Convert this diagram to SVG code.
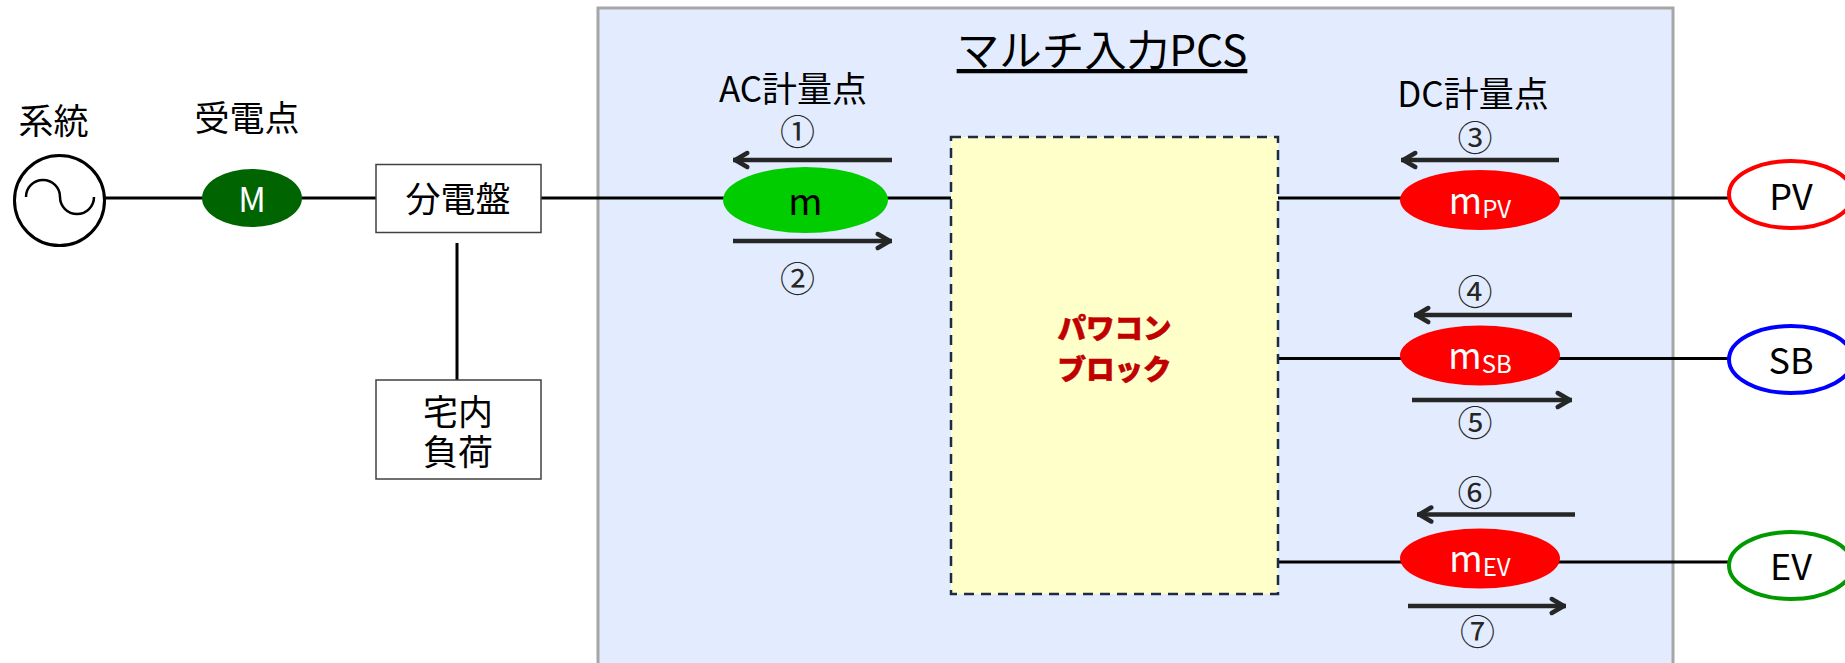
<svg xmlns="http://www.w3.org/2000/svg" width="1845" height="663" viewBox="0 0 1845 663">
<style>
text{font-family:"Noto Sans CJK JP","Noto Sans",sans-serif;fill:#000;text-anchor:middle;dominant-baseline:central}
.l{font-size:35px}
.lat{font-size:36px}
.n{font-size:35px;fill:#262626}
.sub{font-size:24px}
.box{fill:#fff;stroke:#404040;stroke-width:1.5}
.wire{stroke:#000;stroke-width:3;fill:none}
.flow{stroke:#262626;stroke-width:4.5;fill:none;marker-end:url(#a)}
.ev{fill:#fff;stroke-width:4}
.red{fill:#f00}
.wt{fill:#fff}
.pw{font-size:28.500px;font-weight:900;fill:#c00000;stroke:#c00000;stroke-width:.6}
</style>
<defs>
<marker id="a" markerUnits="userSpaceOnUse" markerWidth="24" markerHeight="24" refX="20.250" refY="12" orient="auto" overflow="visible">
<path d="M6 5L18 12L6 19" fill="none" stroke="#262626" stroke-width="4.500" stroke-linecap="round" stroke-linejoin="round"/>
</marker>
</defs>
<rect id="pcs-panel" x="598" y="8" width="1075" height="670" fill="#e2ecfe" stroke="#a6a6a6" stroke-width="3"/>
<g id="connectors">
<path class="wire" d="M105 198H376M541 198H951M1278 198H1728M457 243V380M1278 358.500H1728M1278 562H1728"/>
<path class="flow" d="M892 160H733"/>
<path class="flow" d="M733 241H892"/>
<path class="flow" d="M1559 160H1401"/>
<path class="flow" d="M1572 315H1414"/>
<path class="flow" d="M1412 400H1572"/>
<path class="flow" d="M1575 514.500H1417"/>
<path class="flow" d="M1408 606H1566"/>
</g>
<g id="grid-source"><circle cx="59.500" cy="200.500" r="45" fill="#fff" stroke="#000" stroke-width="3"/><path d="M26 197A17 17 0 0 1 60 197A17 17 0 0 0 94 197" fill="none" stroke="#000" stroke-width="2.500"/><text class="l" x="53.500" y="118.500">系統</text></g>
<g id="receiving-point"><ellipse cx="252" cy="198" rx="50" ry="29" fill="#006400"/><text x="252" y="197" font-size="34" class="wt">M</text><text class="l" x="247" y="115.500">受電点</text></g>
<g id="panelboard"><rect class="box" x="376" y="164.500" width="165" height="68"/><text class="l" x="458" y="196">分電盤</text></g>
<g id="home-load"><rect class="box" x="376" y="380" width="165" height="99"/><text class="l" y="408.500"><tspan x="458">宅内</tspan><tspan x="458" dy="40">負荷</tspan></text></g>
<text x="1102" y="47.500" font-size="42.500" text-decoration="underline">マルチ入力PCS</text>
<g id="ac-meter"><ellipse cx="805.500" cy="200" rx="82.500" ry="33" fill="#00cc00"/><text x="805.500" y="199" font-size="37">m</text><text class="l" x="793" y="86.500">AC計量点</text><text class="n" x="797.500" y="129.500">①</text><text class="n" x="797.500" y="276.500">②</text></g>
<g id="power-block"><rect x="951" y="137" width="327" height="457" fill="#ffffc9" stroke="#1f2a44" stroke-width="2.500" stroke-dasharray="10 7"/><text class="pw" y="325.500"><tspan x="1114.500">パワコン</tspan><tspan x="1114.500" dy="41">ブロック</tspan></text></g>
<g id="dc-meter"><text class="l" x="1473" y="91.500">DC計量点</text></g>
<g id="m-pv"><ellipse class="red" cx="1480" cy="200" rx="80" ry="30"/><text class="wt lat" x="1480" y="198">m<tspan class="sub" dy="9">PV</tspan></text><text class="n" x="1475" y="135.500">③</text></g>
<g id="m-sb"><ellipse class="red" cx="1480" cy="355.500" rx="80" ry="30"/><text class="wt lat" x="1480" y="353">m<tspan class="sub" dy="9">SB</tspan></text><text class="n" x="1475" y="289.500">④</text><text class="n" x="1475" y="420.500">⑤</text></g>
<g id="m-ev"><ellipse class="red" cx="1480" cy="558.500" rx="80" ry="30"/><text class="wt lat" x="1480" y="556">m<tspan class="sub" dy="9">EV</tspan></text><text class="n" x="1475" y="490.500">⑥</text><text class="n" x="1477.500" y="629.500">⑦</text></g>
<g id="pv"><ellipse class="ev" cx="1791" cy="194.500" rx="62" ry="33.500" stroke="#f00"/><text class="lat" x="1791" y="194">PV</text></g>
<g id="sb"><ellipse class="ev" cx="1791" cy="359.500" rx="62" ry="33.500" stroke="#00f"/><text class="lat" x="1791" y="358">SB</text></g>
<g id="ev"><ellipse class="ev" cx="1791" cy="565.500" rx="62" ry="33.500" stroke="#090"/><text class="lat" x="1791" y="564">EV</text></g>
</svg>
